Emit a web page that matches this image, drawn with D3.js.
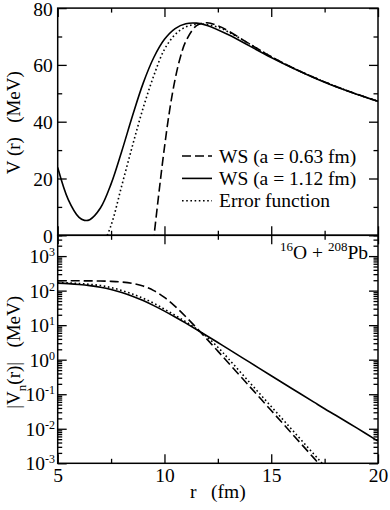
<!DOCTYPE html>
<html>
<head>
<meta charset="UTF-8">
<script src="https://d3js.org/d3.v7.min.js"></script>
<style>
  body { margin: 0; background: #fff; }
  svg text { font-family: "Liberation Serif", "Times New Roman", Times, serif; fill: #000; }
</style>
</head>
<body>
<div id="chart"></div>
<script>
// upper panel: total potential V(r) in MeV
const rSolidTop = [5, 5.5, 6, 6.25, 6.5, 7, 7.5, 8, 8.5, 9, 9.5, 10, 10.5, 11, 11.5, 12, 13, 14, 15, 16, 17, 18, 19, 20];
const vSolidTop = [23.9, 12.5, 6.3, 5.25, 5.5, 9.6, 18.1, 29.6, 42.0, 53.5, 62.6, 69.0, 72.8, 74.5, 74.7, 73.9, 70.6, 66.6, 62.6, 58.9, 55.5, 52.4, 49.7, 47.2];
const rDashTop = [9.4, 9.5, 9.75, 10, 10.25, 10.5, 10.75, 11, 11.5, 12, 12.5, 13, 14, 15, 16, 17, 18, 19, 20];
const vDashTop = [-7.4, -0.9, 15.6, 31.0, 44.4, 55.0, 62.9, 68.3, 73.8, 74.85, 73.8, 71.9, 67.3, 62.9, 59.0, 55.6, 52.5, 49.7, 47.2];
const rDotTop = [7, 7.5, 8, 8.5, 9, 9.5, 10, 10.5, 11, 11.5, 12, 12.5, 13, 14, 15, 16, 17, 18, 19, 20];
const vDotTop = [-5.5, 3.5, 17.5, 31.5, 44.8, 56.2, 65.5, 70.7, 73.4, 74.3, 74.2, 73.3, 71.6, 67.3, 62.9, 59.0, 55.6, 52.5, 49.7, 47.2];

// lower panel: |V_n(r)| in MeV
const rBot = [5, 5.5, 6, 6.5, 7, 7.5, 8, 8.5, 9, 9.5, 10, 10.5, 11, 11.5, 12, 12.5, 13, 14, 15, 16, 17, 17.5, 18, 19, 20];
const vSolidBot = [165.0, 159.3, 151.1, 139.9, 125.3, 107.8, 88.5, 69.1, 51.5, 36.8, 25.5, 17.2, 11.41, 7.48, 4.86, 3.14, 2.024, 0.834, 0.343, 0.142, 0.059, 0.038, 0.025, 0.0106, 0.0044];
const vDashBot = [192.9, 192.7, 192.3, 191.5, 189.7, 185.8, 177.8, 162.3, 136.1, 100.3, 63.4, 35.0, 17.56, 8.36, 3.87, 1.769, 0.804, 0.165, 0.0337, 0.0069, 0.00141, 0.00064, 0.00029, 0.00006, 0.00001];
const vDotBot = [172, 168, 161, 152, 140.4, 122.5, 100.6, 79.6, 60.2, 43.2, 29.0, 19.3, 12.5, 7.8, 4.5, 2.3, 1.06, 0.215, 0.044, 0.009, 0.00183, 0.00083, 0.00037, 0.00007, 0.00001];

const legendLabels = ["WS (a = 0.63 fm)", "WS (a = 1.12 fm)", "Error function"];
const topTicks = [0, 20, 40, 60, 80];
const topMinor = [10, 30, 50, 70];
const xTicks = [5, 10, 15, 20];
const xMinor = [7.5, 12.5, 17.5];
const logPowers = [-3, -2, -1, 0, 1, 2, 3];

const W = 390, H = 510;
const pLeft = 57.7, pRight = 378, pTop = 8.1, pMid = 235.3, pBottom = 463.3;
const serif = "'Liberation Serif', 'Times New Roman', Times, serif";
const fs = 19.5;

const svg = d3.select("#chart").append("svg")
    .attr("width", W).attr("height", H)
    .attr("font-family", serif);

const x = d3.scaleLinear().domain([5, 20]).range([pLeft, pRight]);
const yTop = d3.scaleLinear().domain([0, 80]).range([pMid, pTop]);
const yBot = d3.scaleLog().domain([1e-3, 4e3]).range([pBottom, pMid]);

const defs = svg.append("defs");
defs.append("clipPath").attr("id", "clipTop").append("rect")
    .attr("x", pLeft).attr("y", pTop).attr("width", pRight - pLeft).attr("height", pMid - pTop);
defs.append("clipPath").attr("id", "clipBot").append("rect")
    .attr("x", pLeft).attr("y", pMid).attr("width", pRight - pLeft).attr("height", pBottom - pMid);

const styles = [
  { dash: "9,4" },
  { dash: null },
  { dash: "1.6,2.6" }
];

function drawLine(clip, rs, vs, yScale, st) {
  const pts = rs.map((r, i) => [r, vs[i]]);
  const line = d3.line()
      .x(d => x(d[0]))
      .y(d => yScale(d[1]))
      .curve(d3.curveCatmullRom.alpha(0.5));
  svg.append("path")
      .attr("clip-path", `url(#${clip})`)
      .attr("fill", "none")
      .attr("stroke", "#000")
      .attr("stroke-width", 1.6)
      .attr("stroke-dasharray", st.dash)
      .attr("d", line(pts));
}

drawLine("clipTop", rDashTop, vDashTop, yTop, styles[0]);
drawLine("clipTop", rSolidTop, vSolidTop, yTop, styles[1]);
drawLine("clipTop", rDotTop, vDotTop, yTop, styles[2]);

drawLine("clipBot", rBot, vDashBot, yBot, styles[0]);
drawLine("clipBot", rBot, vSolidBot, yBot, styles[1]);
drawLine("clipBot", rBot, vDotBot, yBot, styles[2]);

// axes helper
function tickAxis(axis, tr) {
  const g = svg.append("g").attr("transform", tr).call(axis)
      .attr("font-family", serif).attr("font-size", fs);
  g.select(".domain").remove();
  g.selectAll(".tick line").attr("stroke", "#000").attr("stroke-width", 1.3);
  g.selectAll("text").attr("fill", "#000");
  return g;
}

// upper panel y
const yLab = tickAxis(d3.axisLeft(yTop).tickValues(topTicks).tickSize(-9).tickPadding(5), `translate(${pLeft},0)`);
yLab.selectAll("text").attr("dy", "0.36em");
tickAxis(d3.axisLeft(yTop).tickValues(topMinor).tickSize(-4.5).tickFormat(""), `translate(${pLeft},0)`);
tickAxis(d3.axisRight(yTop).tickValues(topTicks).tickSize(-9).tickFormat(""), `translate(${pRight},0)`);
tickAxis(d3.axisRight(yTop).tickValues(topMinor).tickSize(-4.5).tickFormat(""), `translate(${pRight},0)`);

// x ticks on all four horizontal edges
[[pTop, "top"], [pMid, "bottom"], [pMid, "top"], [pBottom, "bottom"]].forEach(([yy, side]) => {
  const mk = side === "top" ? d3.axisTop : d3.axisBottom;
  const labelled = yy === pBottom;
  tickAxis(mk(x).tickValues(xTicks).tickSize(-9).tickPadding(5)
      .tickFormat(labelled ? d3.format("d") : ""), `translate(0,${yy})`);
  tickAxis(mk(x).tickValues(xMinor).tickSize(-4.5).tickFormat(""), `translate(0,${yy})`);
});

// lower panel log ticks
const majors = logPowers.map(p => Math.pow(10, p));
const minors = [];
for (let p = -3; p <= 3; p++) {
  for (let m = 2; m <= 9; m++) {
    const v = m * Math.pow(10, p);
    if (v <= 4e3) minors.push(v);
  }
}
tickAxis(d3.axisLeft(yBot).tickValues(majors).tickSize(-9).tickFormat(""), `translate(${pLeft},0)`);
tickAxis(d3.axisLeft(yBot).tickValues(minors).tickSize(-4.5).tickFormat(""), `translate(${pLeft},0)`);
tickAxis(d3.axisRight(yBot).tickValues(majors).tickSize(-9).tickFormat(""), `translate(${pRight},0)`);
tickAxis(d3.axisRight(yBot).tickValues(minors).tickSize(-4.5).tickFormat(""), `translate(${pRight},0)`);

const logLabels = svg.append("g");
logPowers.forEach(p => {
  const t = logLabels.append("text")
      .attr("x", 55)
      .attr("y", yBot(Math.pow(10, p)) + 7)
      .attr("text-anchor", "end")
      .style("font-size", fs + "px");
  t.append("tspan").text("10");
  t.append("tspan").attr("dy", -7).style("font-size", "12px").text(p);
});

// frames
[[pTop, pMid], [pMid, pBottom]].forEach(([a, b]) => {
  svg.append("rect")
      .attr("x", pLeft).attr("y", a)
      .attr("width", pRight - pLeft).attr("height", b - a)
      .attr("fill", "none").attr("stroke", "#000").attr("stroke-width", 1.5);
});

// legend
const legend = svg.append("g");
legendLabels.forEach((lab, i) => {
  const yy = 156 + i * 22.4;
  legend.append("line")
      .attr("x1", 182).attr("x2", 212).attr("y1", yy).attr("y2", yy)
      .attr("stroke", "#000").attr("stroke-width", 1.6)
      .attr("stroke-dasharray", styles[i].dash);
  legend.append("text")
      .attr("x", 219).attr("y", yy + 6.5)
      .style("font-size", fs + "px")
      .text(lab);
});

// reaction label
const reac = svg.append("text")
    .attr("x", 368).attr("y", 259)
    .attr("text-anchor", "end")
    .style("font-size", fs + "px");
reac.append("tspan").attr("dy", -8).style("font-size", "13px").text("16");
reac.append("tspan").attr("dy", 8).text("O + ");
reac.append("tspan").attr("dy", -8).style("font-size", "13px").text("208");
reac.append("tspan").attr("dy", 8).text("Pb");

// axis titles
svg.append("text")
    .attr("transform", `translate(20,${(pTop + pMid) / 2 + 1}) rotate(-90)`)
    .attr("text-anchor", "middle")
    .style("font-size", "19px")
    .style("white-space", "pre")
    .text("V (r)   (MeV)");

const yl = svg.append("text")
    .attr("transform", `translate(20,${(pMid + pBottom) / 2 + 3}) rotate(-90)`)
    .attr("text-anchor", "middle")
    .style("font-size", "19px")
    .style("white-space", "pre");
yl.append("tspan").text("|V");
yl.append("tspan").attr("dy", 6).style("font-size", "13px").text("n");
yl.append("tspan").attr("dy", -6).text("(r)|   (MeV)");

svg.append("text")
    .attr("x", 190).attr("y", 498)
    .style("font-size", fs + "px")
    .style("white-space", "pre")
    .text("r   (fm)");
</script>
</body>
</html>
